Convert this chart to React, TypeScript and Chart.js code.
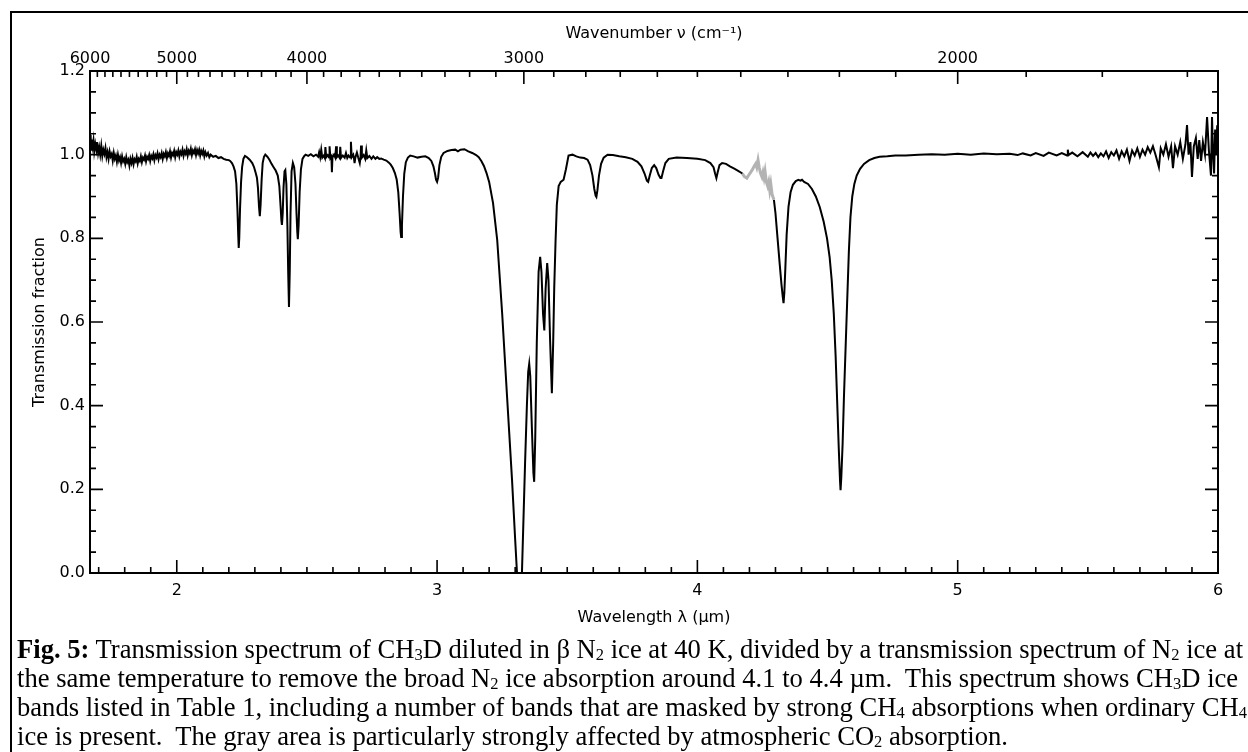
import React, { useEffect, useRef } from "react";
import { Chart, registerables } from "chart.js";

Chart.register(...registerables);

// ---------- DATA (wavelength µm, transmission fraction) ----------
const X_MIN = 10000 / 6000;
const X_MAX = 6.0;

const wavelengthTicks = [2, 3, 4, 5, 6];
const wavenumberTicks = [6000, 5000, 4000, 3000, 2000];
const transmissionTicks = [0, 0.2, 0.4, 0.6, 0.8, 1.0, 1.2];

const leftContinuum: [number, number][] = [
  [1.667, 1.03], [1.669, 1.047], [1.671, 1.012], [1.674, 1.036], [1.677, 1.02], [1.68, 1.034],
  [1.683, 1.008], [1.687, 1.026], [1.691, 1.012], [1.694, 1.03], [1.698, 1.004], [1.702, 1.018],
  [1.706, 1.0], [1.71, 1.021], [1.714, 0.997], [1.718, 1.012], [1.722, 1.002], [1.726, 1.016],
  [1.73, 0.994], [1.734, 1.006], [1.738, 0.99], [1.742, 1.008], [1.746, 0.996], [1.75, 1.002],
  [1.754, 0.986], [1.758, 1.004], [1.762, 0.99], [1.766, 0.998], [1.77, 0.983], [1.774, 1.0],
  [1.778, 0.986], [1.782, 0.994], [1.786, 0.98], [1.79, 0.996], [1.794, 0.984], [1.798, 0.99],
  [1.802, 0.978], [1.806, 0.994], [1.81, 0.982], [1.814, 0.988], [1.818, 0.974], [1.822, 0.99],
  [1.826, 0.98], [1.83, 0.992], [1.834, 0.977], [1.838, 0.989], [1.842, 0.984], [1.846, 0.995],
  [1.85, 0.979], [1.854, 0.99], [1.858, 0.985], [1.862, 0.996], [1.866, 0.982], [1.87, 0.993],
  [1.874, 0.988], [1.878, 0.998], [1.882, 0.984], [1.886, 0.995], [1.89, 0.99], [1.894, 0.999],
  [1.898, 0.985], [1.902, 0.997], [1.906, 0.991], [1.91, 1.001], [1.914, 0.987], [1.918, 0.999],
  [1.922, 0.993], [1.926, 1.003], [1.93, 0.989], [1.934, 1.0], [1.938, 0.994], [1.942, 1.004],
  [1.946, 0.99], [1.95, 1.002], [1.954, 0.996], [1.958, 1.006], [1.962, 0.992], [1.966, 1.003],
  [1.97, 0.997], [1.974, 1.008], [1.978, 0.993], [1.982, 1.004], [1.986, 0.999], [1.99, 1.009],
  [1.994, 0.994], [1.998, 1.006], [2.002, 1.0], [2.006, 1.01], [2.01, 0.996], [2.014, 1.007],
  [2.018, 1.001], [2.022, 1.012], [2.026, 0.997], [2.03, 1.008], [2.034, 1.002], [2.038, 1.013],
  [2.042, 0.998], [2.046, 1.009], [2.05, 1.003], [2.054, 1.014], [2.058, 0.999], [2.062, 1.01],
  [2.066, 1.004], [2.07, 1.013], [2.074, 0.999], [2.078, 1.011], [2.082, 1.003], [2.086, 1.012],
  [2.09, 0.998], [2.094, 1.009], [2.098, 1.002], [2.102, 1.01], [2.106, 0.996], [2.11, 1.006],
  [2.115, 0.998], [2.12, 1.004], [2.125, 0.994], [2.13, 1.0], [2.14, 0.995], [2.15, 0.997],
  [2.16, 0.992], [2.17, 0.994], [2.18, 0.99], [2.19, 0.988], [2.2, 0.987],
];

const bands22to25: [number, number][] = [
  [2.205, 0.985], [2.212, 0.98], [2.218, 0.972], [2.224, 0.96], [2.229, 0.93], [2.233, 0.87],
  [2.236, 0.81], [2.238, 0.777], [2.24, 0.8], [2.243, 0.87], [2.247, 0.935], [2.251, 0.97],
  [2.256, 0.99], [2.262, 0.997], [2.27, 0.994], [2.28, 0.988], [2.29, 0.98], [2.297, 0.97],
  [2.303, 0.957], [2.308, 0.945], [2.312, 0.92], [2.316, 0.875], [2.319, 0.853], [2.322, 0.88],
  [2.326, 0.94], [2.33, 0.98], [2.335, 0.995], [2.34, 1.0], [2.348, 0.995], [2.356, 0.988],
  [2.364, 0.978], [2.372, 0.97], [2.38, 0.962], [2.388, 0.95], [2.394, 0.925], [2.399, 0.875],
  [2.402, 0.842], [2.404, 0.832], [2.407, 0.86], [2.41, 0.92], [2.414, 0.96], [2.417, 0.963],
  [2.421, 0.93], [2.425, 0.83], [2.428, 0.72], [2.431, 0.636], [2.434, 0.72], [2.437, 0.86],
  [2.441, 0.96], [2.446, 0.98], [2.451, 0.97], [2.456, 0.93], [2.46, 0.86], [2.463, 0.815],
  [2.465, 0.798], [2.468, 0.83], [2.472, 0.91], [2.477, 0.965], [2.483, 0.99], [2.49, 0.997],
];

const noisy25to28: [number, number][] = [
  [2.495, 1.0], [2.505, 0.997], [2.515, 1.001], [2.525, 0.996], [2.535, 1.0], [2.543, 0.995],
  [2.547, 1.006], [2.551, 0.994], [2.555, 1.012], [2.559, 0.993], [2.565, 0.998], [2.569, 0.992],
  [2.571, 1.018], [2.574, 0.994], [2.58, 0.999], [2.585, 0.993], [2.587, 1.02], [2.59, 0.992],
  [2.594, 0.996], [2.596, 0.958], [2.598, 0.993], [2.604, 1.0], [2.609, 0.993], [2.612, 1.02],
  [2.615, 0.994], [2.62, 0.998], [2.626, 0.992], [2.628, 1.019], [2.631, 0.992], [2.638, 0.998],
  [2.645, 0.993], [2.65, 1.004], [2.655, 0.992], [2.66, 0.998], [2.666, 0.993], [2.669, 1.031],
  [2.672, 0.994], [2.678, 1.0], [2.681, 0.99], [2.683, 0.98], [2.686, 0.993], [2.692, 1.005],
  [2.697, 0.993], [2.703, 0.98], [2.706, 0.994], [2.708, 1.022], [2.711, 0.993], [2.718, 0.999],
  [2.724, 0.99], [2.728, 1.01], [2.732, 0.992], [2.74, 0.997], [2.748, 0.99], [2.755, 0.996],
  [2.763, 0.99], [2.77, 0.994], [2.778, 0.99], [2.785, 0.991], [2.795, 0.988], [2.805, 0.986],
  [2.815, 0.981], [2.822, 0.976], [2.83, 0.968], [2.838, 0.956],
];

const bands28to31: [number, number][] = [
  [2.845, 0.94], [2.851, 0.91], [2.856, 0.86], [2.86, 0.815], [2.862, 0.803], [2.865, 0.83],
  [2.869, 0.9], [2.874, 0.955], [2.88, 0.982], [2.888, 0.993], [2.897, 0.998], [2.91, 0.996],
  [2.925, 0.993], [2.94, 0.995], [2.955, 0.996], [2.968, 0.992], [2.978, 0.985], [2.986, 0.972],
  [2.992, 0.955], [2.996, 0.94], [3.0, 0.935], [3.004, 0.945], [3.009, 0.975], [3.016, 0.995],
  [3.025, 1.004], [3.04, 1.009], [3.055, 1.011], [3.07, 1.012], [3.08, 1.008], [3.09, 1.012],
  [3.105, 1.013], [3.12, 1.008], [3.135, 1.004], [3.15, 0.999],
];

const band33: [number, number][] = [
  [3.16, 0.994], [3.17, 0.985], [3.18, 0.973], [3.19, 0.956], [3.2, 0.935], [3.215, 0.884],
  [3.231, 0.796], [3.25, 0.621], [3.269, 0.42], [3.288, 0.222], [3.3, 0.08], [3.307, 0.0],
  [3.316, -0.05], [3.326, 0.0], [3.338, 0.262], [3.345, 0.4], [3.35, 0.48], [3.354, 0.5],
  [3.358, 0.47], [3.364, 0.35], [3.37, 0.24], [3.373, 0.218], [3.377, 0.32], [3.383, 0.55],
  [3.39, 0.72], [3.396, 0.756], [3.401, 0.72], [3.407, 0.62], [3.412, 0.58], [3.417, 0.68],
  [3.423, 0.741], [3.428, 0.7], [3.434, 0.56], [3.441, 0.43], [3.446, 0.55], [3.45, 0.68],
  [3.455, 0.79], [3.46, 0.88], [3.467, 0.925], [3.475, 0.935], [3.486, 0.94], [3.495, 0.965],
  [3.505, 0.998], [3.52, 1.0],
];

const bands35to42: [number, number][] = [
  [3.535, 0.996], [3.55, 0.993], [3.565, 0.992], [3.578, 0.988], [3.588, 0.975], [3.597, 0.95],
  [3.604, 0.918], [3.609, 0.902], [3.612, 0.899], [3.616, 0.915], [3.622, 0.95], [3.63, 0.978],
  [3.64, 0.993], [3.655, 1.0], [3.675, 0.999], [3.7, 0.996], [3.725, 0.994], [3.75, 0.99],
  [3.77, 0.983], [3.785, 0.972], [3.797, 0.955], [3.806, 0.938], [3.811, 0.935], [3.817, 0.95],
  [3.825, 0.968], [3.834, 0.975], [3.842, 0.968], [3.851, 0.952], [3.858, 0.944], [3.862, 0.944],
  [3.868, 0.96], [3.877, 0.98], [3.89, 0.99], [3.92, 0.993], [3.96, 0.992], [4.0, 0.99],
  [4.03, 0.987], [4.05, 0.98], [4.062, 0.97], [4.068, 0.955], [4.073, 0.944], [4.078, 0.958],
  [4.085, 0.975], [4.095, 0.98], [4.11, 0.978], [4.125, 0.972], [4.14, 0.967], [4.155, 0.962],
  [4.173, 0.955],
];

const co2Gray: [number, number][] = [
  [4.173, 0.955], [4.18, 0.948], [4.19, 0.944], [4.198, 0.952], [4.205, 0.958], [4.21, 0.963],
  [4.218, 0.972], [4.224, 0.978], [4.228, 0.97], [4.233, 0.987], [4.238, 0.968], [4.243, 0.955],
  [4.248, 0.947], [4.252, 0.958], [4.256, 0.945], [4.26, 0.96], [4.265, 0.935], [4.27, 0.925],
  [4.274, 0.935], [4.278, 0.915], [4.282, 0.93], [4.287, 0.905], [4.294, 0.892],
];

const bands43to46: [number, number][] = [
  [4.294, 0.892], [4.3, 0.86], [4.308, 0.8], [4.316, 0.74], [4.323, 0.69], [4.328, 0.66],
  [4.331, 0.645], [4.334, 0.67], [4.338, 0.73], [4.343, 0.81], [4.35, 0.875], [4.358, 0.91],
  [4.367, 0.928], [4.378, 0.937], [4.388, 0.94], [4.396, 0.938], [4.402, 0.94], [4.41, 0.935],
  [4.425, 0.93], [4.44, 0.918], [4.455, 0.9], [4.47, 0.875], [4.485, 0.84], [4.498, 0.8],
  [4.508, 0.755], [4.516, 0.7], [4.524, 0.62], [4.531, 0.52], [4.537, 0.41], [4.543, 0.3],
  [4.548, 0.22], [4.55, 0.198], [4.553, 0.23], [4.558, 0.31], [4.563, 0.42], [4.57, 0.55],
  [4.576, 0.66], [4.582, 0.77], [4.588, 0.85], [4.595, 0.9], [4.603, 0.93], [4.612, 0.95],
  [4.625, 0.966], [4.64, 0.978], [4.66, 0.987], [4.68, 0.992], [4.7, 0.995], [4.73, 0.996],
  [4.76, 0.998],
];

const rightContinuum: [number, number][] = [
  [4.8, 0.998], [4.85, 1.0], [4.9, 1.001], [4.95, 1.0], [5.0, 1.002], [5.05, 1.0],
  [5.1, 1.003], [5.15, 1.001], [5.2, 1.002], [5.23, 0.999], [5.25, 1.003], [5.28, 0.998],
  [5.3, 1.004], [5.33, 0.997], [5.35, 1.005], [5.38, 0.998], [5.4, 1.004], [5.42, 0.998],
  [5.423, 1.012], [5.426, 0.999], [5.44, 1.005], [5.46, 0.996], [5.48, 1.006], [5.5, 0.995],
  [5.51, 1.005], [5.52, 0.997], [5.53, 1.004], [5.54, 0.994], [5.55, 1.003], [5.56, 0.996],
  [5.57, 1.008], [5.58, 0.992], [5.59, 1.006], [5.6, 0.998], [5.61, 1.01], [5.62, 0.99],
  [5.63, 1.008], [5.64, 0.996], [5.65, 1.012], [5.66, 0.985], [5.67, 1.01], [5.68, 0.998],
  [5.69, 1.015], [5.7, 0.995], [5.71, 1.012], [5.72, 1.0], [5.73, 1.018], [5.74, 1.005],
  [5.75, 1.02], [5.76, 1.0], [5.773, 0.97], [5.78, 1.015], [5.79, 1.0], [5.8, 1.025],
  [5.81, 0.995], [5.82, 1.02], [5.827, 0.968], [5.835, 1.02], [5.845, 1.0], [5.855, 1.03],
  [5.865, 0.99], [5.875, 1.025], [5.881, 1.071], [5.887, 1.0], [5.894, 1.03], [5.9, 0.947],
  [5.907, 1.02], [5.915, 1.04], [5.922, 0.99], [5.928, 1.035], [5.935, 0.985], [5.942, 1.03],
  [5.95, 1.0], [5.958, 1.09], [5.965, 1.01], [5.973, 0.95], [5.977, 1.09], [5.981, 1.0],
  [5.985, 0.955], [5.989, 1.06], [5.993, 1.0], [5.997, 1.07], [6.0, 1.03],
];

const blackBefore = [...leftContinuum, ...bands22to25, ...noisy25to28, ...bands28to31, ...band33, ...bands35to42];
const blackAfter = [...bands43to46, ...rightContinuum];

const toXY = (arr: [number, number][]) => arr.map(([x, y]) => ({ x, y }));

const FONT = "'DejaVu Sans', 'Liberation Sans', sans-serif";

const frameTicks = {
  id: "frameTicks",
  afterDatasetsDraw(chart: any) {
    const { ctx, chartArea: a, scales } = chart;
    const xs = scales.x;
    const ys = scales.y;
    const MAJ = 13;
    const MIN = 6;
    ctx.save();
    ctx.strokeStyle = "#000";
    ctx.lineWidth = 1.6;
    ctx.beginPath();
    for (let i = 17; i <= 60; i++) {
      const p = xs.getPixelForValue(i / 10);
      const len = i % 10 === 0 ? MAJ : MIN;
      ctx.moveTo(p, a.bottom);
      ctx.lineTo(p, a.bottom - len);
    }
    for (let n = 6000; n >= 1700; n -= 100) {
      const p = xs.getPixelForValue(10000 / n);
      const len = n % 1000 === 0 ? MAJ : MIN;
      ctx.moveTo(p, a.top);
      ctx.lineTo(p, a.top + len);
    }
    for (let i = 0; i <= 24; i++) {
      const p = ys.getPixelForValue(i * 0.05);
      const len = i % 4 === 0 ? MAJ : MIN;
      ctx.moveTo(a.left, p);
      ctx.lineTo(a.left + len, p);
      ctx.moveTo(a.right, p);
      ctx.lineTo(a.right - len, p);
    }
    ctx.stroke();
    ctx.lineWidth = 2;
    ctx.strokeRect(a.left, a.top, a.right - a.left, a.bottom - a.top);
    ctx.restore();
  },
};

function SpectrumChart() {
  const ref = useRef<HTMLCanvasElement | null>(null);
  useEffect(() => {
    if (!ref.current) return;
    Chart.defaults.font.family = FONT;
    Chart.defaults.font.size = 16;
    Chart.defaults.color = "#000";
    const noGrid = { display: false, drawTicks: false };
    const lineDs = (arr: [number, number][], color: string, width: number) => ({
      data: toXY(arr),
      showLine: true,
      borderColor: color,
      borderWidth: width,
      pointRadius: 0,
      tension: 0,
      xAxisID: "x",
      yAxisID: "y",
    });
    const chart = new Chart(ref.current, {
      type: "scatter",
      data: {
        datasets: [
          lineDs(blackBefore, "#000", 2),
          lineDs(co2Gray, "#b3b3b3", 3),
          lineDs(blackAfter, "#000", 2),
        ],
      },
      options: {
        animation: false,
        responsive: true,
        maintainAspectRatio: false,
        layout: { padding: { left: 0, right: 30, top: 0, bottom: 0 } },
        plugins: { legend: { display: false }, tooltip: { enabled: false } },
        events: [],
        scales: {
          x: {
            type: "linear",
            position: "bottom",
            min: X_MIN,
            max: X_MAX,
            afterBuildTicks: (s: any) => {
              s.ticks = wavelengthTicks.map((v) => ({ value: v }));
            },
            afterFit: (s: any) => {
              s.height = 67;
            },
            grid: noGrid,
            border: { display: false },
            ticks: { padding: 8, maxRotation: 0, autoSkip: false, callback: (v: any) => String(v) },
            title: { display: true, text: "Wavelength λ (µm)", padding: { top: 0, bottom: 13 } },
          },
          x2: {
            type: "linear",
            position: "top",
            min: X_MIN,
            max: X_MAX,
            afterBuildTicks: (s: any) => {
              s.ticks = wavenumberTicks.map((n) => ({ value: 10000 / n }));
            },
            afterFit: (s: any) => {
              s.height = 71;
            },
            grid: noGrid,
            border: { display: false },
            ticks: {
              padding: 3,
              maxRotation: 0,
              autoSkip: false,
              callback: (v: any) => String(Math.round(10000 / Number(v))),
            },
            title: { display: true, text: "Wavenumber ν (cm⁻¹)", padding: { top: 24, bottom: 0 } },
          },
          y: {
            type: "linear",
            position: "left",
            min: 0,
            max: 1.2,
            afterBuildTicks: (s: any) => {
              s.ticks = transmissionTicks.map((v) => ({ value: v }));
            },
            afterFit: (s: any) => {
              s.width = 90;
            },
            grid: noGrid,
            border: { display: false },
            ticks: { padding: 5, callback: (v: any) => Number(v).toFixed(1) },
            title: { display: true, text: "Transmission fraction", padding: { top: 30, bottom: 0 } },
          },
        },
      } as any,
      plugins: [frameTicks],
    });
    return () => chart.destroy();
  }, []);
  return <canvas ref={ref} />;
}

const Sub = ({ children }: { children: React.ReactNode }) => (
  <span style={{ fontSize: "0.62em", position: "relative", top: "0.1em" }}>{children}</span>
);

export default function App() {
  const lineStyle: React.CSSProperties = { whiteSpace: "pre", height: 29, lineHeight: "29px" };
  return (
    <div
      style={{
        position: "absolute",
        left: 0,
        top: 0,
        width: 1248,
        height: 752,
        overflow: "hidden",
        background: "#fff",
      }}
    >
      <div
        style={{
          position: "absolute",
          left: 10,
          top: 11,
          width: 1300,
          height: 900,
          border: "2px solid #000",
          boxSizing: "border-box",
        }}
      />
      <div style={{ position: "absolute", left: 0, top: 0, width: 1248, height: 640 }}>
        <SpectrumChart />
      </div>
      <div
        style={{
          position: "absolute",
          left: 17,
          top: 635,
          fontFamily: "'Liberation Serif', 'Times New Roman', serif",
          fontSize: 26.6,
          color: "#000",
        }}
      >
        <div style={lineStyle}>
          <b>Fig. 5:</b> Transmission spectrum of CH<Sub>3</Sub>D diluted in β N<Sub>2</Sub> ice at 40 K, divided by a transmission spectrum of N<Sub>2</Sub> ice at
        </div>
        <div style={lineStyle}>
          the same temperature to remove the broad N<Sub>2</Sub> ice absorption around 4.1 to 4.4 µm.  This spectrum shows CH<Sub>3</Sub>D ice
        </div>
        <div style={lineStyle}>
          bands listed in Table 1, including a number of bands that are masked by strong CH<Sub>4</Sub> absorptions when ordinary CH<Sub>4</Sub>
        </div>
        <div style={lineStyle}>
          ice is present.  The gray area is particularly strongly affected by atmospheric CO<Sub>2</Sub> absorption.
        </div>
      </div>
    </div>
  );
}
